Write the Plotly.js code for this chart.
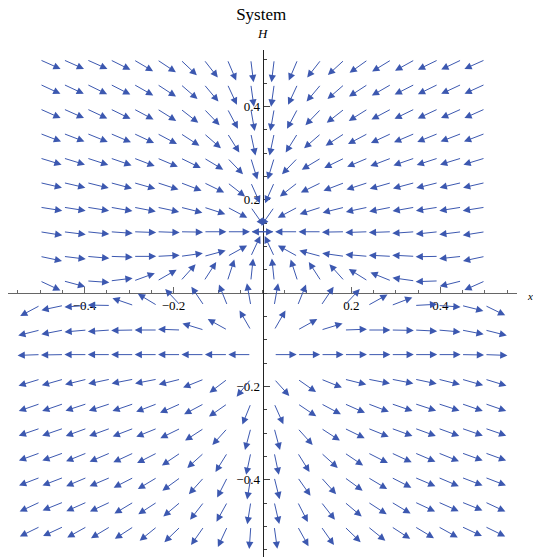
<!DOCTYPE html>
<html>
<head>
<meta charset="utf-8">
<script src="https://cdn.plot.ly/plotly-3.0.1.min.js"></script>
<style>html,body{margin:0;padding:0;background:#fff;}#plot{width:533px;height:558px;}</style>
</head>
<body>
<div id="plot"></div>
<script>
// Sample points (arrow tails): x across, H from top to bottom
const xCols = [-0.5,-0.4474,-0.3947,-0.3421,-0.2895,-0.2368,-0.1842,-0.1316,-0.0789,-0.0263,
                0.0263,0.0789,0.1316,0.1842,0.2368,0.2895,0.3421,0.3947,0.4474,0.5];
const hRows = [0.5,0.4474,0.3947,0.3421,0.2895,0.2368,0.1842,0.1316,0.0789,0.0263,
               -0.0263,-0.0789,-0.1316,-0.1842,-0.2368,-0.2895,-0.3421,-0.3947,-0.4474,-0.5];

// Arrow directions (degrees, 0 = pointing right, 90 = pointing up), one array per row, left to right
const row00 = [-24,-24,-24,-26.5,-30.5,-33.5,-43.5,-52,-67,-83, 263,247,232,222.5,215.5,211.5,209,206,205.5,204];
const row01 = [-25,-25,-26,-27,-29.5,-33,-41,-50,-65,-82, 262,245,230,221,213,210,207,206,205,204.5];
const row02 = [-24,-24,-25,-26,-28,-32,-38,-46,-62,-80, 260,242,226,218,212,208,206,205,204,204];
const row03 = [-21,-21,-22,-23,-25,-28,-33,-41,-58,-78, 258,238,221,213,208,205,203,202,201,201];
const row04 = [-17,-17,-18,-19,-21,-23,-26,-31,-46,-73, 253,226,211,206,203,201,199,198,197,197];
const row05 = [-13,-13,-14,-15,-16,-18,-21,-26,-38,-66, 246,218,206,201,198,196,195,194,193,193];
const row06 = [-9,-9,-9,-10,-11,-12,-14,-18,-28,-55, 235,208,198,194,192,191,190,189,189,189];
const row07 = [-9,-7,-6,-4,-2,-2,-1,0,0,0, 180,180,180,181,182,182,184,186,187,189];
const row08 = [-12,-7,-5,-2,0,3,8,15,29,65, 115,151,165,172,175,177,177,181,186,192];
const row09 = [-25,-15,-4,7,20,30,48,57,72,84, 96,108,123,132,148,158,172,182,194,204];
const row10 = [208,192,184,179,161,149,133,124,112,100, 80,68,56,47,29,21,3,-4,-14,-26];
const row11 = [194,191,185,184,181,180,178,163,151,120, 60,29,17,2,0,-1,-3,-5,-11,-14];
const row12 = [182,181,180,180,180,180,180,180,180,180, 0,0,0,0,0,0,0,0,-1,-2];
const row13 = [197,196,194,192,191,191,194,202,217,231, -48,-35,-22,-14,-11,-11,-12,-14,-16,-17];
const row14 = [199,199,198,198,199,201,204,208,215,248, -66,-34,-28,-24,-21,-19,-18,-18,-19,-19];
const row15 = [199,199,200,200,201,202,206,213,228,255, -75,-48,-33,-26,-22,-20,-20,-20,-19,-19];
const row16 = [200,200,202,203,205,207,214,222,238,258, -78,-58,-42,-34,-27,-25,-23,-22,-20,-20];
const row17 = [201,201,203,203,207,211,216,228,243,260.5, -76,-55,-48,-36,-31,-27,-23,-23,-21,-21];
const row18 = [205,202,204,205,211,213,220,232,241,261, -77,-63,-52,-40,-33,-31,-25,-24,-22,-25];
const row19 = [206,205,209,211,213,219,224,235,245,266, -82,-61,-55,-44,-39,-33,-31,-29,-25,-26];
const angleRows = [row00,row01,row02,row03,row04,row05,row06,row07,row08,row09,
                   row10,row11,row12,row13,row14,row15,row16,row17,row18,row19];

const xTickVals = [-0.4,-0.2,0.2,0.4];
const xTickText = ['\u22120.4','\u22120.2','0.2','0.4'];
const yTickVals = [-0.4,-0.2,0.2,0.4];
const yTickText = ['\u22120.4','\u22120.2','0.2','0.4'];

const X_RANGE = [-0.572, 0.572];
const Y_RANGE = [-0.5652, 0.521];
const PLOT_W = 509, PLOT_H = 507;
const pxX = PLOT_W / (X_RANGE[1]-X_RANGE[0]);
const pxY = PLOT_H / (Y_RANGE[1]-Y_RANGE[0]);
const ARROW_PX = 22.5;
const arrowColor = 'rgb(60,88,176)';

const annotations = [];
angleRows.forEach((row, i) => {
  row.forEach((deg, j) => {
    if (deg === null) return;
    const a = deg * Math.PI / 180;
    const dx = ARROW_PX * Math.cos(a) / pxX;
    const dy = ARROW_PX * Math.sin(a) / pxY;
    const tx = xCols[j], ty = hRows[i];
    annotations.push({
      x: tx + dx, y: ty + dy, ax: tx, ay: ty,
      xref: 'x', yref: 'y', axref: 'x', ayref: 'y',
      text: '', showarrow: true, arrowhead: 2, arrowsize: 1.45,
      arrowwidth: 1, arrowcolor: arrowColor, standoff: 0, startstandoff: 0
    });
  });
});

const serif = 'Liberation Serif, Times New Roman, serif';
annotations.push({xref:'paper', yref:'paper', x:0.5, y:1, yshift:17, xanchor:'center', yanchor:'middle',
  text:'<i>H</i>', showarrow:false, font:{family:serif, size:13, color:'#000'}});
annotations.push({xref:'paper', yref:'paper', x:1, xshift:8, y:0.5203, yshift:-3, xanchor:'left', yanchor:'middle',
  text:'<i>x</i>', showarrow:false, font:{family:serif, size:11, color:'#000'}});

const gridX = [], gridY = [];
hRows.forEach(h => xCols.forEach(x => { gridX.push(x); gridY.push(h); }));

const data = [{
  x: gridX, y: gridY, type: 'scatter', mode: 'markers',
  marker: {size: 1, color: 'rgba(0,0,0,0)'}, hoverinfo: 'skip', showlegend: false
}];

const layout = {
  width: 533, height: 558,
  margin: {l: 8, r: 16, t: 50, b: 1},
  paper_bgcolor: '#fff', plot_bgcolor: '#fff',
  showlegend: false,
  title: {text: 'System', x: 0.49, xanchor: 'center', y: 0.974, yanchor: 'middle',
          font: {family: serif, size: 17, color: '#000'}},
  xaxis: {
    range: X_RANGE, anchor: 'free', position: 0.5203,
    showgrid: false, zeroline: false, showline: true, linecolor: '#666', linewidth: 1.2,
    tickvals: xTickVals, ticktext: xTickText, ticks: 'inside', ticklen: 6, tickcolor: '#666', tickwidth: 1,
    minor: {dtick: 0.05, tick0: 0, ticks: 'inside', ticklen: 3, tickcolor: '#666', tickwidth: 1},
    tickfont: {family: serif, size: 13, color: '#000'}, fixedrange: true
  },
  yaxis: {
    range: Y_RANGE, anchor: 'free', position: 0.5,
    showgrid: false, zeroline: false, showline: true, linecolor: '#222', linewidth: 1,
    tickvals: yTickVals, ticktext: yTickText, ticks: 'inside', ticklen: 6, tickcolor: '#444', tickwidth: 1,
    minor: {dtick: 0.05, tick0: 0, ticks: 'inside', ticklen: 3, tickcolor: '#444', tickwidth: 1},
    tickfont: {family: serif, size: 13, color: '#000'}, fixedrange: true
  },
  annotations: annotations
};

Plotly.newPlot('plot', data, layout, {staticPlot: true, displayModeBar: false});
</script>
</body>
</html>
